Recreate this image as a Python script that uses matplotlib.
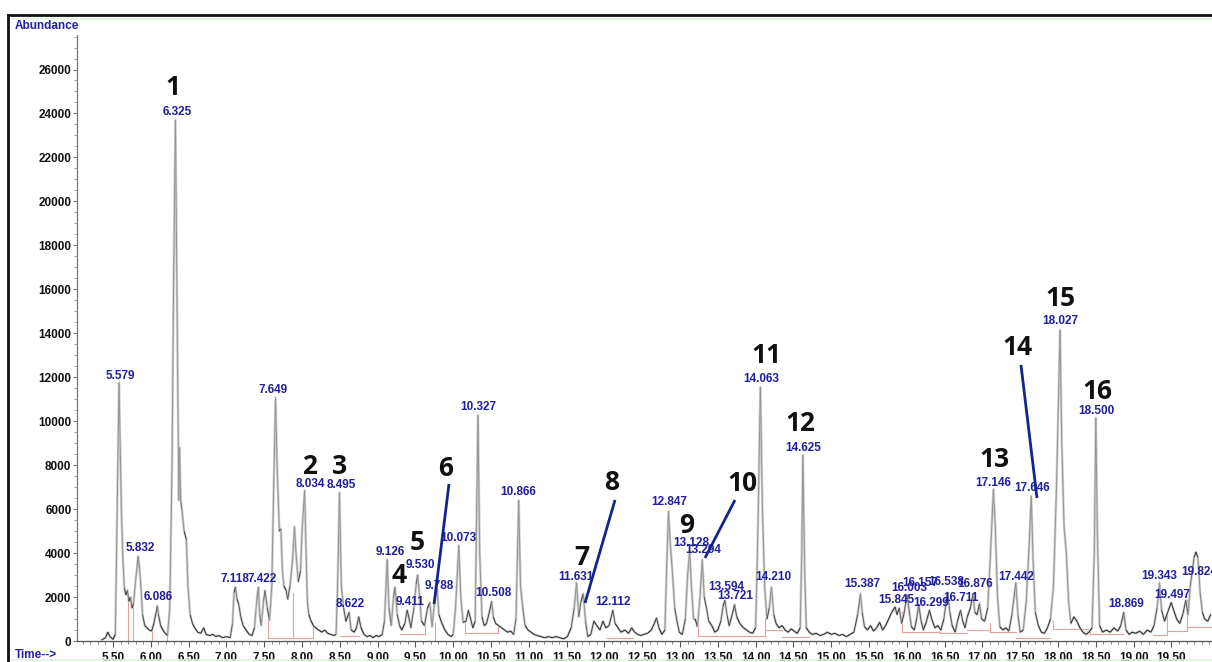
import matplotlib
matplotlib.use("Agg")
import numpy as np
import matplotlib.pyplot as plt
from matplotlib.lines import Line2D
from matplotlib.collections import LineCollection
from matplotlib.ticker import FixedLocator, MultipleLocator, FuncFormatter

# ---------------- data ----------------
trace_time = [
    5.35, 5.40, 5.43, 5.46, 5.50, 5.53, 5.579, 5.61, 5.63, 5.65, 5.67, 5.69, 5.71, 5.73,
    5.75, 5.77, 5.80, 5.832, 5.85, 5.87, 5.89, 5.92, 5.95, 5.98, 6.01, 6.04, 6.07, 6.086,
    6.10, 6.13, 6.16, 6.19, 6.22, 6.25, 6.28, 6.30, 6.325, 6.35, 6.37, 6.38, 6.395, 6.41,
    6.44, 6.47, 6.49, 6.52, 6.55, 6.58, 6.62, 6.66, 6.70, 6.73, 6.78, 6.82, 6.86, 6.90,
    6.95, 7.00, 7.05, 7.08, 7.10, 7.118, 7.14, 7.16, 7.19, 7.22, 7.26, 7.30, 7.34, 7.37,
    7.40, 7.422, 7.44, 7.46, 7.49, 7.51, 7.54, 7.57, 7.60, 7.625, 7.649, 7.67, 7.70, 7.72,
    7.74, 7.76, 7.79, 7.81, 7.84, 7.87, 7.90, 7.92, 7.95, 7.98, 8.00, 8.034, 8.05, 8.07,
    8.09, 8.12, 8.15, 8.18, 8.22, 8.26, 8.30, 8.34, 8.38, 8.42, 8.45, 8.47, 8.495, 8.52,
    8.55, 8.58, 8.622, 8.65, 8.69, 8.72, 8.75, 8.78, 8.82, 8.86, 8.90, 8.94, 8.98, 9.02,
    9.06, 9.09, 9.126, 9.15, 9.18, 9.21, 9.23, 9.26, 9.29, 9.32, 9.36, 9.39, 9.411, 9.44,
    9.48, 9.51, 9.53, 9.55, 9.58, 9.62, 9.66, 9.69, 9.72, 9.76, 9.788, 9.81, 9.85, 9.89,
    9.93, 9.97, 10.00, 10.03, 10.073, 10.10, 10.13, 10.17, 10.20, 10.23, 10.26, 10.29,
    10.31, 10.327, 10.35, 10.38, 10.41, 10.44, 10.47, 10.508, 10.53, 10.56, 10.60, 10.64,
    10.68, 10.72, 10.76, 10.80, 10.83, 10.866, 10.89, 10.92, 10.95, 10.99, 11.03, 11.07,
    11.11, 11.16, 11.21, 11.26, 11.31, 11.36, 11.41, 11.46, 11.51, 11.56, 11.60, 11.631,
    11.66, 11.69, 11.72, 11.75, 11.78, 11.82, 11.86, 11.90, 11.94, 11.98, 12.02, 12.06,
    12.09, 12.112, 12.14, 12.18, 12.22, 12.27, 12.32, 12.36, 12.40, 12.44, 12.48, 12.52,
    12.57, 12.62, 12.66, 12.69, 12.72, 12.76, 12.80, 12.82, 12.847, 12.87, 12.90, 12.93,
    12.96, 12.99, 13.03, 13.07, 13.10, 13.128, 13.15, 13.18, 13.20, 13.23, 13.26, 13.294,
    13.32, 13.35, 13.38, 13.42, 13.46, 13.50, 13.54, 13.57, 13.594, 13.62, 13.65, 13.69,
    13.721, 13.75, 13.79, 13.84, 13.88, 13.92, 13.96, 14.00, 14.03, 14.063, 14.09, 14.12,
    14.15, 14.18, 14.21, 14.24, 14.27, 14.31, 14.35, 14.39, 14.43, 14.47, 14.51, 14.55,
    14.59, 14.61, 14.625, 14.65, 14.67, 14.71, 14.75, 14.80, 14.85, 14.90, 14.95, 15.00,
    15.05, 15.10, 15.15, 15.20, 15.25, 15.30, 15.35, 15.387, 15.41, 15.44, 15.48, 15.52,
    15.56, 15.60, 15.64, 15.68, 15.72, 15.76, 15.80, 15.845, 15.87, 15.90, 15.93, 15.96,
    16.003, 16.03, 16.06, 16.10, 16.13, 16.157, 16.19, 16.22, 16.26, 16.299, 16.33, 16.37,
    16.41, 16.45, 16.49, 16.538, 16.57, 16.60, 16.64, 16.67, 16.711, 16.74, 16.77, 16.80,
    16.84, 16.876, 16.90, 16.93, 16.96, 16.99, 17.03, 17.07, 17.10, 17.146, 17.17, 17.20,
    17.23, 17.27, 17.31, 17.35, 17.39, 17.442, 17.47, 17.50, 17.54, 17.58, 17.62, 17.646,
    17.67, 17.70, 17.74, 17.78, 17.82, 17.86, 17.90, 17.94, 17.98, 18.027, 18.05, 18.08,
    18.11, 18.14, 18.17, 18.21, 18.25, 18.29, 18.33, 18.37, 18.41, 18.45, 18.48, 18.50,
    18.52, 18.55, 18.59, 18.64, 18.69, 18.74, 18.79, 18.83, 18.869, 18.90, 18.94, 18.98,
    19.03, 19.08, 19.13, 19.18, 19.23, 19.27, 19.31, 19.343, 19.37, 19.41, 19.45, 19.497,
    19.53, 19.57, 19.61, 19.65, 19.69, 19.72, 19.75, 19.80, 19.824, 19.85, 19.88, 19.91,
    19.94, 19.98, 20.02,
]
trace_abundance = [
    50, 150, 400, 200, 80, 300, 11750, 6000, 3700, 2400, 2100, 2300, 1800, 2000,
    1500, 1700, 2800, 3850, 3300, 2400, 1200, 700, 600, 500, 450, 800, 1300, 1600,
    1200, 700, 500, 350, 250, 1500, 8000, 16000, 23700, 14000, 6400, 8800, 6400, 6000,
    5000, 4600, 2500, 1200, 800, 600, 400, 350, 600, 300, 250, 300, 200, 250,
    150, 200, 150, 800, 2200, 2450, 1900, 1700, 1100, 700, 500, 300, 250, 600,
    1800, 2450, 1200, 700, 1800, 2300, 1500, 950, 2500, 7000, 11050, 8000, 5000, 5100,
    3200, 2500, 2300, 1900, 2500, 3500, 5200, 4000, 2700, 3200, 5000, 6850, 4500, 1800,
    1200, 900, 700, 600, 500, 400, 500, 350, 300, 250, 300, 2500, 6750, 2500,
    1500, 900, 1300, 500, 400, 600, 1100, 600, 300, 200, 250, 150, 250, 200,
    300, 900, 3700, 1500, 700, 2000, 2450, 1200, 700, 500, 800, 1400, 1100, 600,
    1500, 2600, 3000, 2200, 900, 700, 1500, 1750, 650, 2000, 2350, 1200, 800, 500,
    300, 200, 300, 1500, 4350, 2000, 850, 900, 1400, 1000, 600, 900,
    6000, 10280, 4000, 1100, 700, 800, 1200, 1800, 1100, 800, 700, 600,
    500, 400, 450, 300, 1000, 6400, 2500, 1500, 700, 500, 400, 300,
    250, 200, 150, 200, 150, 200, 150, 100, 200, 600, 1500, 2650,
    1100, 1800, 2150, 900, 200, 300, 900, 700, 500, 900, 600, 700,
    1100, 1400, 800, 600, 400, 500, 350, 600, 400, 300, 250, 300,
    350, 500, 800, 1050, 600, 300, 500, 3000, 5900, 4500, 3100, 1500,
    900, 400, 300, 1000, 3000, 4100, 2500, 1000, 1000, 650, 1800, 3700,
    2000, 1500, 900, 700, 400, 500, 900, 1600, 1850, 1200, 700, 1200,
    1650, 1100, 800, 600, 500, 400, 350, 600, 5000, 11550, 6000, 2450,
    1000, 1500, 2450, 1200, 800, 600, 700, 500, 400, 550, 450, 350,
    600, 4000, 8450, 3000, 600, 400, 300, 350, 250, 300, 400, 300,
    350, 250, 300, 200, 300, 400, 1200, 2150, 1300, 650, 500, 700,
    450, 600, 850, 500, 700, 1000, 1300, 1550, 1200, 1500, 800, 1200,
    2100, 1400, 650, 500, 1000, 1650, 900, 500, 900, 1400, 1000, 600,
    700, 500, 1000, 2200, 1300, 700, 400, 900, 1400, 900, 600, 1100,
    1500, 2150, 1300, 1200, 1700, 1000, 900, 1500, 3500, 6900, 5200, 2000,
    650, 500, 600, 450, 1200, 2650, 1200, 400, 500, 1800, 4500, 6600,
    3700, 1300, 700, 400, 350, 600, 1000, 2500, 7000, 14150, 9000, 5200,
    4000, 1800, 800, 1100, 900, 600, 400, 300, 400, 600, 4000, 10150,
    5000, 700, 400, 500, 400, 600, 450, 700, 1300, 500, 300, 400,
    350, 450, 300, 500, 400, 700, 1500, 2650, 1400, 900, 1300, 1750,
    1400, 1000, 800, 1200, 1850, 1200, 2500, 3800, 4050, 3800, 2200, 1300,
    1000, 900, 1200,
]

# retention-time labels (text) and where they sit
rt_labels = [
    "5.579", "6.325", "5.832", "6.086", "7.118", "7.422", "7.649", "8.034", "8.495",
    "8.622", "9.126", "9.411", "9.530", "9.788", "10.073", "10.327", "10.508", "10.866",
    "11.631", "12.112", "12.847", "13.128", "13.294", "13.594", "13.721", "14.063",
    "14.210", "14.625", "15.387", "15.845", "16.003", "16.157", "16.299", "16.538",
    "16.711", "16.876", "17.146", "17.442", "17.646", "18.027", "18.500", "18.869",
    "19.343", "19.497", "19.824",
]
rt_label_x = [
    5.592, 6.346, 5.857, 6.095, 7.113, 7.470, 7.616, 8.105, 8.515,
    8.635, 9.164, 9.428, 9.560, 9.812, 10.063, 10.328, 10.526, 10.857,
    11.624, 12.113, 12.854, 13.145, 13.304, 13.608, 13.727, 14.071,
    14.230, 14.627, 15.407, 15.857, 16.029, 16.174, 16.320, 16.518,
    16.717, 16.902, 17.140, 17.444, 17.656, 18.026, 18.502, 18.899,
    19.336, 19.508, 19.865,
]
rt_label_y = [
    12060, 24070, 4230, 2000, 2820, 2820, 11420, 7140, 7100,
    1680, 4050, 1780, 3460, 2500, 4690, 10650, 2180, 6780,
    2910, 1780, 6330, 4460, 4140, 2460, 2050, 11920,
    2910, 8780, 2590, 1870, 2410, 2640, 1730, 2690,
    1960, 2590, 7190, 2910, 6960, 14560, 10470, 1680,
    2960, 2090, 3140,
]

# compound numbers
compound_ids = ["1", "2", "3", "4", "5", "6", "7", "8", "9", "10", "11", "12", "13", "14", "15", "16"]
compound_x = [6.293, 8.105, 8.502, 9.283, 9.521, 9.904, 11.703, 12.100, 13.092, 13.820,
              14.137, 14.587, 17.166, 17.470, 18.039, 18.515]
compound_y = [25160, 7917, 7917, 3000, 4460, 7870, 3780, 7190, 5233, 7144,
              12968, 9874, 8236, 13332, 15561, 11330]

# pointer lines for numbers 6, 8, 10, 14
pointer_x0 = [9.944, 12.140, 13.727, 17.510]
pointer_y0 = [7144, 6416, 6416, 12558]
pointer_x1 = [9.746, 11.743, 13.330, 17.722]
pointer_y1 = [1684, 1729, 3777, 6507]

# integration baselines (red)
base_t0 = [7.55, 8.50, 9.30, 10.15, 12.03, 13.24, 13.67, 14.13, 14.35, 15.94, 16.44, 16.80,
           17.10, 17.45, 17.93, 18.42, 19.26, 19.44, 19.70]
base_t1 = [8.15, 8.75, 9.63, 10.59, 12.38, 13.67, 14.13, 14.35, 14.70, 16.44, 16.80, 17.10,
           17.45, 17.89, 18.40, 18.86, 19.44, 19.70, 20.04]
base_level = [150, 250, 300, 350, 150, 250, 250, 500, 200, 400, 350, 500,
              400, 150, 550, 320, 270, 450, 640]
drop_t = [5.70, 5.77, 6.02, 6.22, 7.55, 7.88, 8.15, 9.63, 9.76, 10.15, 10.59, 13.24, 14.13,
          15.94, 17.10, 17.93, 18.42, 19.44, 19.70]
drop_lo = [0, 0, 0, 0, 150, 150, 150, 300, 0, 350, 350, 250, 250,
           400, 400, 550, 320, 270, 450]
drop_hi = [2200, 1700, 450, 250, 1300, 2200, 700, 700, 800, 850, 700, 1000, 1000,
           1300, 800, 900, 600, 1300, 1850]

x_ticks = [5.5, 6.0, 6.5, 7.0, 7.5, 8.0, 8.5, 9.0, 9.5, 10.0, 10.5, 11.0, 11.5, 12.0,
           12.5, 13.0, 13.5, 14.0, 14.5, 15.0, 15.5, 16.0, 16.5, 17.0, 17.5, 18.0, 18.5,
           19.0, 19.5]
y_ticks = [0, 2000, 4000, 6000, 8000, 10000, 12000, 14000, 16000, 18000, 20000, 22000,
           24000, 26000]

# ---------------- figure ----------------
W, H = 1212, 662
fig = plt.figure(figsize=(W / 100, H / 100), dpi=100)
fig.patch.set_facecolor("white")
ax = fig.add_axes([77 / W, 21 / H, (W - 77) / W, 606 / H])
ax.set_xlim(5.023, 20.037)
ax.set_ylim(0, 27570)
ax.set_facecolor("white")

BLUE = "#1f1f9f"
NAVY = "#14248a"

# baselines
for t0, t1, lv in zip(base_t0, base_t1, base_level):
    ax.plot([t0, t1], [lv, lv], color="#e5a0a0", lw=0.8, zorder=1)
for t, lo, hi in zip(drop_t, drop_lo, drop_hi):
    ax.plot([t, t], [lo, hi], color="#e5a0a0", lw=0.8, zorder=1)

# trace: light halo, then a core whose darkness follows the on-screen steepness
ax.plot(trace_time, trace_abundance, color="#cfcfcf", lw=1.8, zorder=2, solid_joinstyle="round")
fig.canvas.draw()
pts = ax.transData.transform(np.column_stack([trace_time, trace_abundance]))
segs_data = np.stack([np.column_stack([trace_time[:-1], trace_abundance[:-1]]),
                      np.column_stack([trace_time[1:], trace_abundance[1:]])], axis=1)
dx = np.abs(np.diff(pts[:, 0])) + 1e-6
dy = np.abs(np.diff(pts[:, 1]))
steep = np.clip((dy / dx - 2.0) / 8.0, 0, 1)
shade = 0.13 + 0.45 * steep
colors = [(s, s, s, 1.0) for s in shade]
ax.add_collection(LineCollection(segs_data, colors=colors, linewidths=0.7, zorder=3))

# retention labels
for txt, x, y in zip(rt_labels, rt_label_x, rt_label_y):
    ax.text(x, y, txt, color=BLUE, fontsize=8.5, fontweight="bold",
            family="Liberation Sans", ha="center", va="center", zorder=5, clip_on=False)

# compound numbers
for txt, x, y in zip(compound_ids, compound_x, compound_y):
    ax.text(x, y, txt, color="#111111", fontsize=19, fontweight="bold",
            family="Open Sans", ha="center", va="center", zorder=6)

for x0, y0, x1, y1 in zip(pointer_x0, pointer_y0, pointer_x1, pointer_y1):
    ax.plot([x0, x1], [y0, y1], color=NAVY, lw=2.0, zorder=6, solid_capstyle="butt")

# axes styling
for s in ("top", "right"):
    ax.spines[s].set_visible(False)
ax.spines["left"].set_color("#777777")
ax.spines["bottom"].set_color("#555555")
ax.spines["left"].set_linewidth(0.9)
ax.spines["bottom"].set_linewidth(0.9)

ax.xaxis.set_major_locator(FixedLocator(x_ticks))
ax.xaxis.set_minor_locator(MultipleLocator(0.1))
ax.xaxis.set_major_formatter(FuncFormatter(lambda v, p: f"{v:.2f}"))
ax.yaxis.set_major_locator(FixedLocator(y_ticks))
ax.yaxis.set_minor_locator(MultipleLocator(500))
ax.yaxis.set_major_formatter(FuncFormatter(lambda v, p: f"{int(round(v))}"))

ax.tick_params(axis="x", which="major", direction="out", length=4, width=0.8, color="#555555",
               pad=4, labelsize=8.5)
ax.tick_params(axis="x", which="minor", direction="out", length=2.5, width=0.6, color="#777777")
ax.tick_params(axis="y", which="major", direction="out", length=3, width=0.8, color="#777777",
               pad=1, labelsize=8.5)
ax.tick_params(axis="y", which="minor", direction="out", length=2, width=0.6, color="#999999")
for lab in ax.get_xticklabels() + ax.get_yticklabels():
    lab.set_fontfamily("Liberation Sans")
    lab.set_fontweight("bold")
    lab.set_color("#111111")

# figure-level text and frame
fig.text(15 / W, 1 - 26 / H, "Abundance", color=BLUE, fontsize=8.5, fontweight="bold",
         family="Liberation Sans", ha="left", va="center")
fig.text(15 / W, 1 - 655 / H, "Time-->", color=BLUE, fontsize=8.5, fontweight="bold",
         family="Liberation Sans", ha="left", va="center")

fig.add_artist(Line2D([8 / W, 1.0], [1 - 15 / H, 1 - 15 / H], color="#111111", lw=2.0,
                      transform=fig.transFigure))
fig.add_artist(Line2D([8 / W, 8 / W], [0.0, 1 - 15 / H], color="#111111", lw=2.0,
                      transform=fig.transFigure))
fig.add_artist(Line2D([11 / W, 1.0], [1 - 18.5 / H, 1 - 18.5 / H], color="#dff5dd", lw=1.2,
                      transform=fig.transFigure))
fig.add_artist(Line2D([11 / W, 1.0], [2 / H, 2 / H], color="#dff5dd", lw=1.2,
                      transform=fig.transFigure))

fig.savefig("out.png", dpi=100, facecolor="white")
